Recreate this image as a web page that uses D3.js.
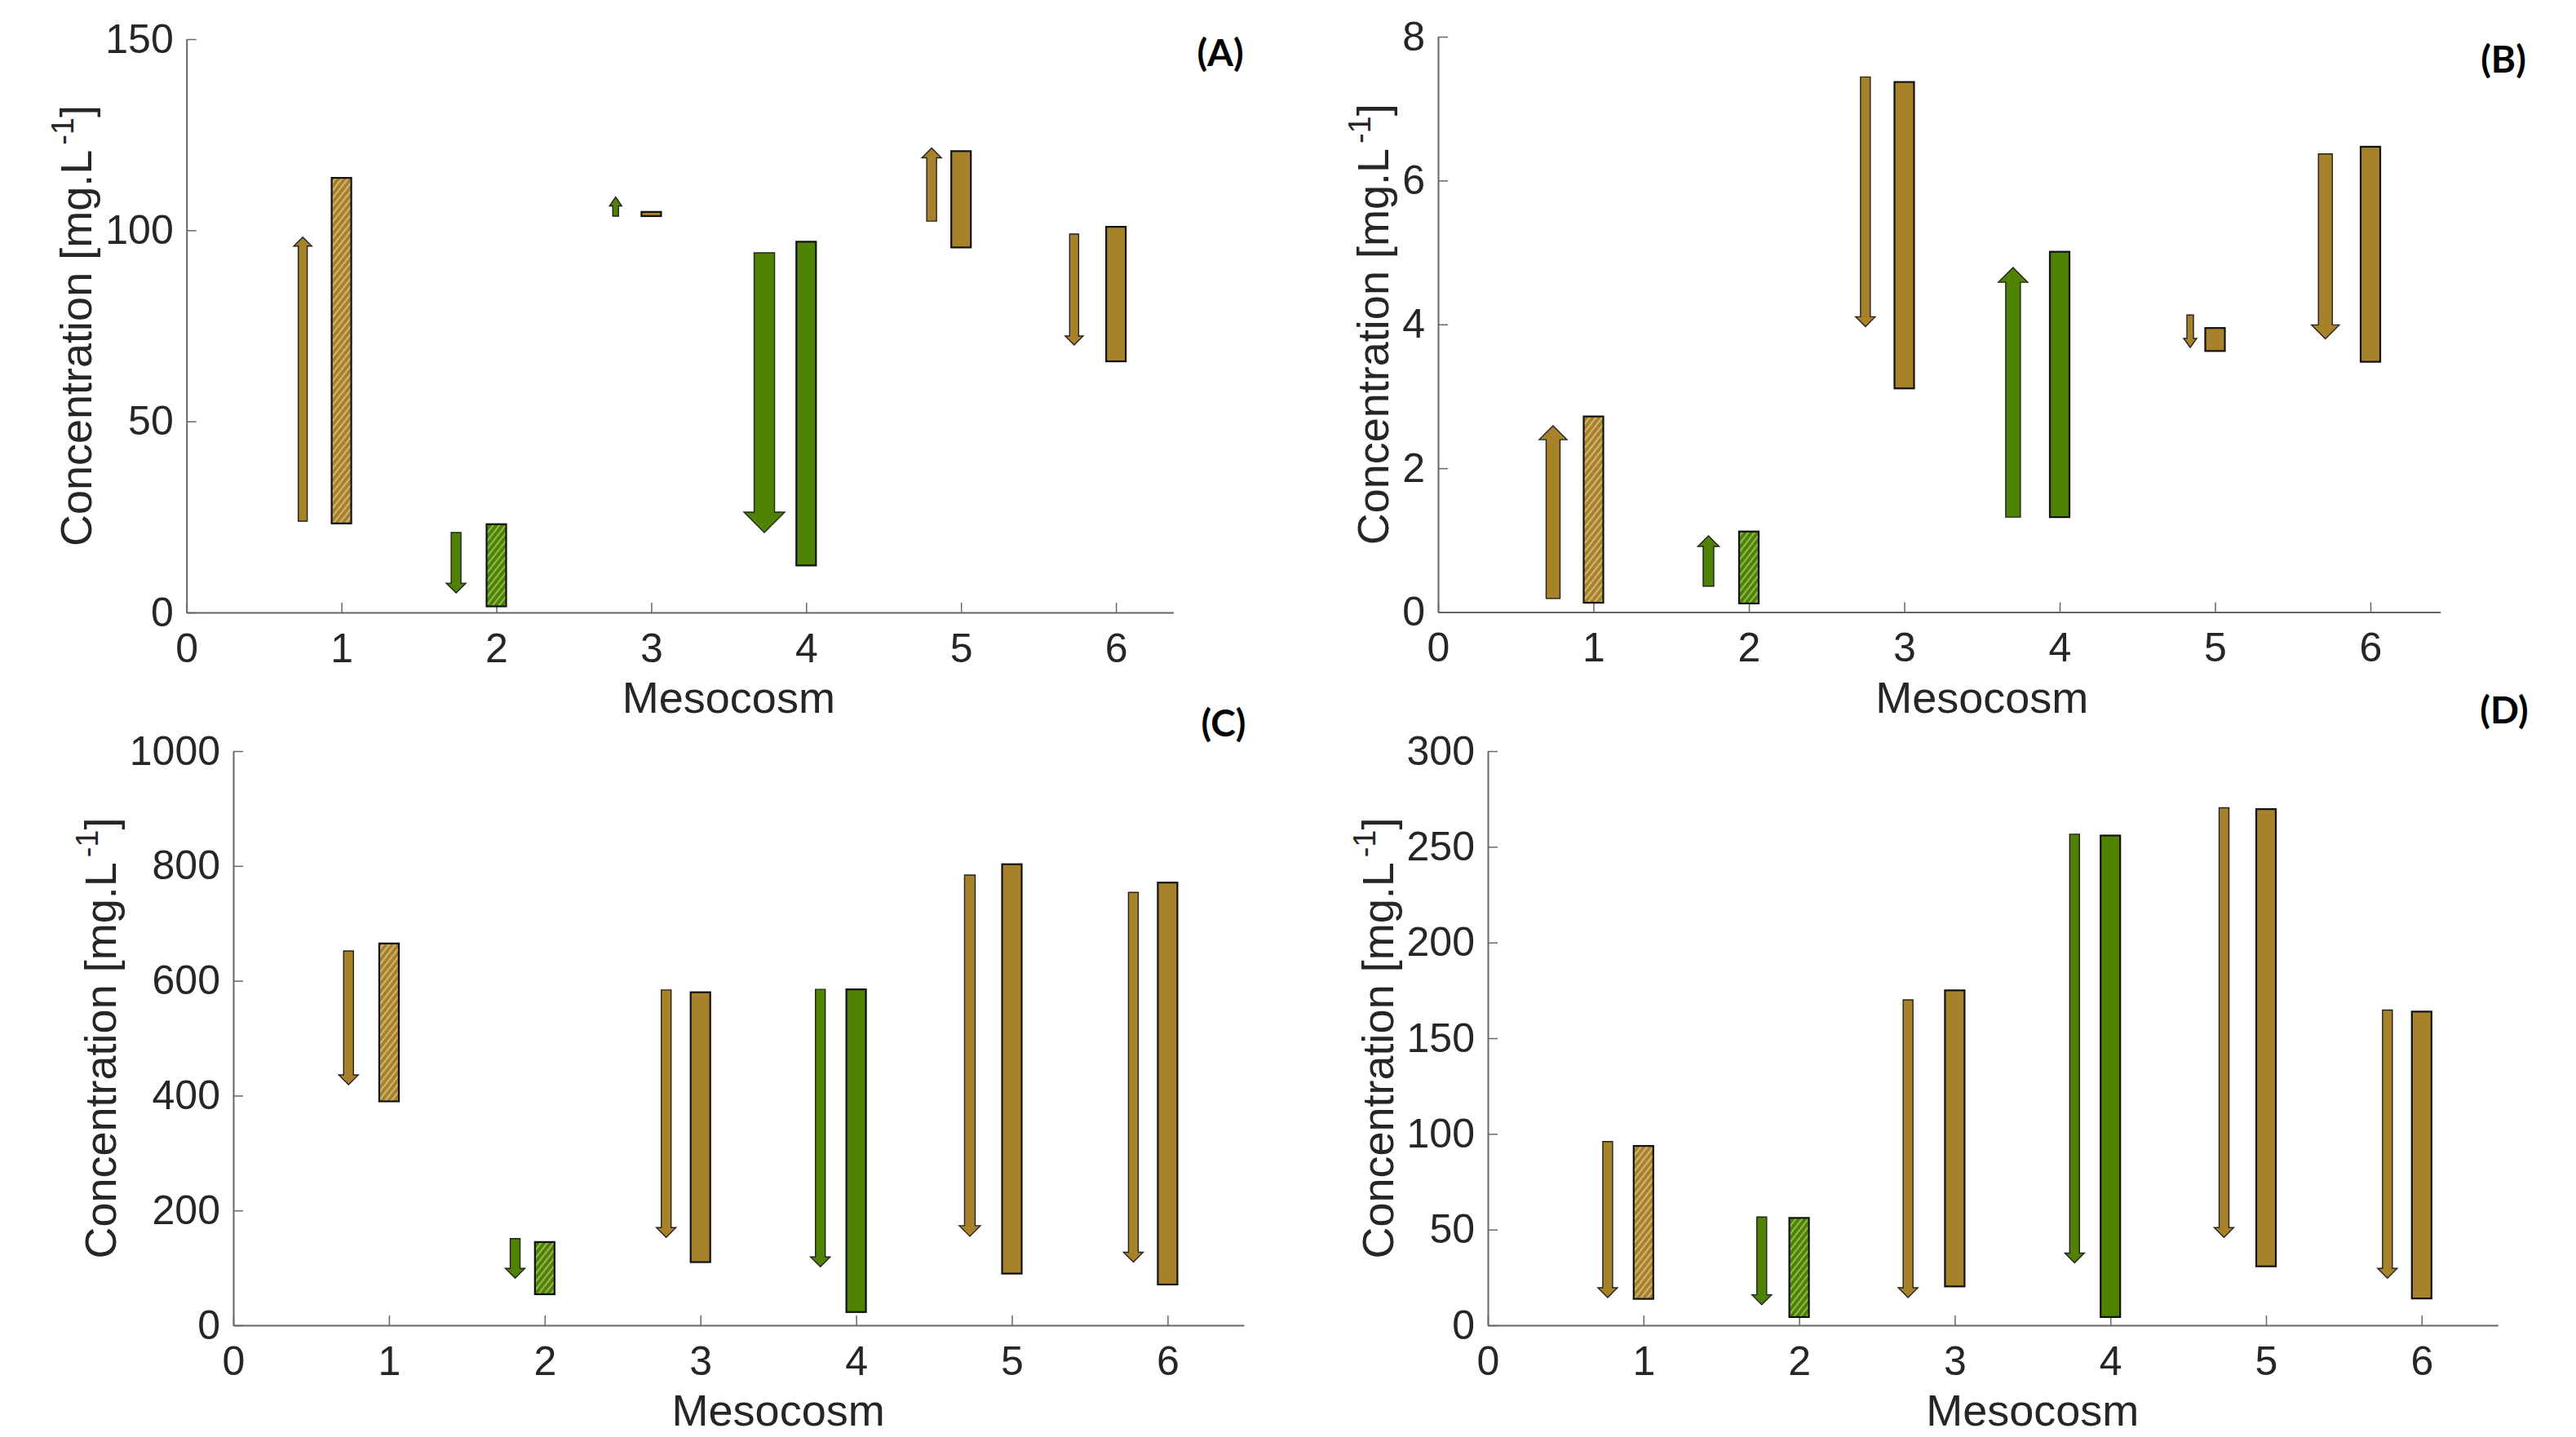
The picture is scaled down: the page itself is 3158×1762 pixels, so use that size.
<!DOCTYPE html>
<html>
<head>
<meta charset="utf-8">
<script src="https://cdn.jsdelivr.net/npm/d3@7"></script>
<style>
  html, body { margin: 0; padding: 0; background: #fff; }
  text { font-family: "Liberation Sans", Arial, sans-serif; }
</style>
</head>
<body>
<div id="chart"></div>
<script>
// mesocosm numbers on the x axis
var mesocosms = [1, 2, 3, 4, 5, 6];

// arrows: [start, end] concentration, x position in mesocosm units, colour key
var arrowsA = [[23.9, 98.2], [20.9, 5.1], [103.7, 108.7], [94.1, 20.9], [102.4, 121.5], [99.0, 70.0]];
var arrowXA = [0.75, 1.74, 2.77, 3.73, 4.81, 5.73];
var arrowColA = ["b", "g", "g", "g", "b", "b"];
var barsA = [[23.3, 113.7], [1.6, 23.1], [103.7, 104.8], [12.3, 97.0], [95.5, 120.7], [65.7, 100.9]];

var arrowsB = [[0.19, 2.59], [0.36, 1.06], [7.44, 3.97], [1.32, 4.79], [4.13, 3.68], [6.37, 3.80]];
var arrowXB = [0.74, 1.74, 2.75, 3.70, 4.84, 5.71];
var arrowColB = ["b", "g", "b", "g", "b", "b"];
var barsB = [[0.13, 2.72], [0.12, 1.12], [3.11, 7.37], [1.32, 5.01], [3.63, 3.95], [3.48, 6.47]];

var arrowsC = [[652, 419], [151, 82], [584, 153], [585, 102], [784, 155], [754, 110]];
var arrowXC = [0.74, 1.81, 2.78, 3.77, 4.73, 5.78];
var arrowColC = ["b", "g", "b", "g", "b", "b"];
var barsC = [[390, 665], [54, 145], [110, 580], [23, 585], [90, 803], [71, 771]];

var arrowsD = [[96.0, 14.5], [56.6, 10.8], [170, 14.5], [256.6, 32.6], [270.4, 45.9], [164.7, 24.6]];
var arrowXD = [0.77, 1.76, 2.70, 3.77, 4.73, 5.78];
var arrowColD = ["b", "g", "b", "g", "b", "b"];
var barsD = [[13.8, 93.7], [4.3, 56.1], [20.3, 175], [4.3, 255.9], [30.8, 269.7], [14.0, 163.9]];

// bar colours and which bars are hatched
var barCol = ["b", "g", "b", "g", "b", "b"];
var barHatch = [true, true, false, false, false, false];

// y ticks for each panel
var ticksA = [0, 50, 100, 150];
var ticksB = [0, 2, 4, 6, 8];
var ticksC = [0, 200, 400, 600, 800, 1000];
var ticksD = [0, 50, 100, 150, 200, 250, 300];

// styles
var colours = { b: "#a8822a", g: "#4e8200" };
var hatchLine = { b: "#e6d3a0", g: "#b4d888" };
var shaftA = [11, 12, 7, 25, 12, 11];
var shaftB = [17, 13, 12, 18, 8, 17];
var shaftC = [12, 12, 12, 12, 13, 12];
var shaftD = [12, 12, 12, 12, 12, 12];

var W = 3158, H = 1762;
var svg = d3.select("#chart").append("svg")
    .attr("width", W)
    .attr("height", H);
svg.append("rect").attr("width", W).attr("height", H).attr("fill", "#fff");

var defs = svg.append("defs");
Object.keys(colours).forEach(function(k) {
    var p = defs.append("pattern")
        .attr("id", "hatch-" + k)
        .attr("patternUnits", "userSpaceOnUse")
        .attr("width", 6)
        .attr("height", 6)
        .attr("patternTransform", "rotate(38)");
    p.append("rect").attr("width", 6).attr("height", 6).attr("fill", colours[k]);
    p.append("line")
        .attr("x1", 3).attr("y1", 0).attr("x2", 3).attr("y2", 6)
        .attr("stroke", hatchLine[k])
        .attr("stroke-width", 1.3);
});

////////////////////////////////////////////////////////////////////////

function panel(cfg)
{
    var x = d3.scaleLinear()
        .domain([0, cfg.xEnd])
        .range([cfg.left, cfg.left + cfg.xEnd * cfg.step]);
    var y = d3.scaleLinear()
        .domain([0, cfg.ticks[cfg.ticks.length - 1]])
        .range([cfg.bottom, cfg.top]);

    var g = svg.append("g");

    var xAxis = g.append("g")
        .attr("transform", "translate(0," + cfg.bottom + ")")
        .call(d3.axisBottom(x)
            .tickValues([0].concat(mesocosms))
            .tickFormat(d3.format("d"))
            .tickSizeInner(-12)
            .tickSizeOuter(0)
            .tickPadding(25));

    var yAxis = g.append("g")
        .attr("transform", "translate(" + cfg.left + ",0)")
        .call(d3.axisLeft(y)
            .tickValues(cfg.ticks)
            .tickFormat(d3.format("d"))
            .tickSizeInner(-12)
            .tickSizeOuter(0)
            .tickPadding(16));

    [xAxis, yAxis].forEach(function(a) {
        a.select(".domain").attr("stroke", "#666").attr("stroke-width", 2);
        a.selectAll(".tick line").attr("stroke", "#666").attr("stroke-width", 1.5);
        a.selectAll(".tick text")
            .attr("fill", "#262626")
            .style("font-size", "50px")
            .style("font-family", "'Liberation Sans', Arial, sans-serif");
    });

    // bars
    g.selectAll(".bar")
        .data(cfg.bars)
      .enter().append("rect")
        .attr("class", "bar")
        .attr("x", function(d, i) { return x(mesocosms[i]) - 12; })
        .attr("width", 24)
        .attr("y", function(d) { return y(Math.max(d[0], d[1])); })
        .attr("height", function(d) { return Math.abs(y(d[0]) - y(d[1])); })
        .attr("fill", function(d, i) {
            return barHatch[i] ? "url(#hatch-" + barCol[i] + ")" : colours[barCol[i]];
        })
        .attr("stroke", "#111")
        .attr("stroke-width", 2.2);

    // arrows
    g.selectAll(".arrow")
        .data(cfg.arrows)
      .enter().append("path")
        .attr("class", "arrow")
        .attr("d", function(d, i) {
            var cx = x(cfg.arrowX[i]);
            var w = cfg.shaft[i];
            var hw = Math.max(2 * w, 15);
            var hl = Math.max(w, 11);
            var ys = y(d[0]), ye = y(d[1]);
            var dir = ye < ys ? 1 : -1;   // 1 = pointing up
            var yh = ye + dir * hl;
            return "M" + (cx - w / 2) + "," + ys +
                   "L" + (cx + w / 2) + "," + ys +
                   "L" + (cx + w / 2) + "," + yh +
                   "L" + (cx + hw / 2) + "," + yh +
                   "L" + cx + "," + ye +
                   "L" + (cx - hw / 2) + "," + yh +
                   "L" + (cx - w / 2) + "," + yh + "Z";
        })
        .attr("fill", function(d, i) { return colours[cfg.arrowCol[i]]; })
        .attr("stroke", "#222")
        .attr("stroke-width", 1.4);

    // axis labels
    g.append("text")
        .attr("x", x(3.5))
        .attr("y", cfg.bottom + 123)
        .attr("text-anchor", "middle")
        .attr("fill", "#262626")
        .style("font-size", "54px")
        .text("Mesocosm");

    var maxW = 0;
    yAxis.selectAll(".tick text").each(function() {
        maxW = Math.max(maxW, this.getBBox().width);
    });
    var lx = cfg.left - 16 - maxW - 17;
    var ly = (cfg.top + cfg.bottom) / 2;
    var lab = g.append("text")
        .attr("transform", "translate(" + lx + "," + ly + ") rotate(-90)")
        .attr("text-anchor", "middle")
        .attr("fill", "#262626")
        .style("font-size", "54px");
    lab.append("tspan").text("Concentration [mg.L");
    lab.append("tspan").attr("dy", -22).attr("dx", 6).style("font-size", "38px").text("-1");
    lab.append("tspan").attr("dy", 22).text("]");

    g.append("text")
        .attr("x", cfg.tagX)
        .attr("y", cfg.tagY)
        .attr("text-anchor", "middle")
        .attr("fill", "#000")
        .style("font-family", "Lato, 'Open Sans', sans-serif")
        .style("font-weight", "bold")
        .style("font-size", "46px")
        .text(cfg.tag);
}

panel({ left: 228.7, top: 48, bottom: 751, step: 189.9, xEnd: 6.37,
        ticks: ticksA, arrows: arrowsA, arrowX: arrowXA, arrowCol: arrowColA, bars: barsA,
        shaft: shaftA, tag: "(A)", tagX: 1496, tagY: 81 });
panel({ left: 1763, top: 45, bottom: 750.5, step: 190.5, xEnd: 6.45,
        ticks: ticksB, arrows: arrowsB, arrowX: arrowXB, arrowCol: arrowColB, bars: barsB,
        shaft: shaftB, tag: "(B)", tagX: 3069, tagY: 89 });
panel({ left: 286, top: 921, bottom: 1625, step: 190.9, xEnd: 6.49,
        ticks: ticksC, arrows: arrowsC, arrowX: arrowXC, arrowCol: arrowColC, bars: barsC,
        shaft: shaftC, tag: "(C)", tagX: 1500, tagY: 903 });
panel({ left: 1824, top: 921, bottom: 1625, step: 190.8, xEnd: 6.49,
        ticks: ticksD, arrows: arrowsD, arrowX: arrowXD, arrowCol: arrowColD, bars: barsD,
        shaft: shaftD, tag: "(D)", tagX: 3070, tagY: 887 });
</script>
</body>
</html>
